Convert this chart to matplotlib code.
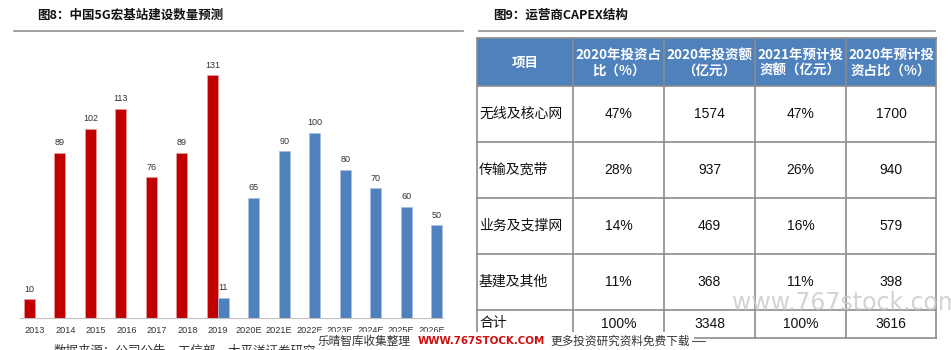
import matplotlib
matplotlib.use("Agg")
import matplotlib.pyplot as plt
from matplotlib.patches import Rectangle
import numpy as np

plt.rcParams['font.family'] = ['Noto Sans CJK SC', 'DejaVu Sans']

# ---------------- data ----------------
years = ["2013", "2014", "2015", "2016", "2017", "2018", "2019",
         "2020E", "2021E", "2022E", "2023E", "2024E", "2025E", "2026E"]
red_vals = [10, 89, 102, 113, 76, 89, 131, None, None, None, None, None, None, None]
blue_vals = [None, None, None, None, None, None, 11, 65, 90, 100, 80, 70, 60, 50]

left_title = "图8：中国5G宏基站建设数量预测"
right_title = "图9：运营商CAPEX结构"
source_text = "数据来源：公司公告，工信部，太平洋证券研究院"

tbl_header = ["项目", "2020年投资占\n比（%）", "2020年投资额\n（亿元）",
              "2021年预计投\n资额（亿元）", "2020年预计投\n资占比（%）"]
tbl_items = ["无线及核心网", "传输及宽带", "业务及支撑网", "基建及其他", "合计"]
tbl_share20 = ["47%", "28%", "14%", "11%", "100%"]
tbl_amt20 = ["1574", "937", "469", "368", "3348"]
tbl_c3 = ["47%", "26%", "16%", "11%", "100%"]
tbl_c4 = ["1700", "940", "579", "398", "3616"]

W, H = 951, 350
RED = "#C00000"
BLUE = "#4F81BD"

fig = plt.figure(figsize=(W / 100, H / 100), dpi=100)
fig.patch.set_facecolor("white")

def rect(x0, y0, x1, y1):
    # pixel coords (top-left origin) -> fig fraction
    return [x0 / W, (H - y1) / H, (x1 - x0) / W, (y1 - y0) / H]

# ---------------- bar chart ----------------
ax = fig.add_axes(rect(20, 40, 443, 318))
x = np.arange(len(years))
bw = 0.36
for i in range(len(years)):
    if red_vals[i] is not None:
        ax.bar(x[i] - bw / 2, red_vals[i], width=bw, color=RED,
               edgecolor="#e8a0a0", linewidth=0.5)
        ax.annotate(str(red_vals[i]), (x[i] - bw / 2, red_vals[i]),
                    xytext=(0, 4), textcoords="offset points",
                    ha="center", va="bottom", fontsize=6.5,
                    family=["Liberation Sans"], color="#333333")
    if blue_vals[i] is not None:
        ax.bar(x[i] + bw / 2, blue_vals[i], width=bw, color=BLUE,
               edgecolor="#a9c1e0", linewidth=0.5)
        ax.annotate(str(blue_vals[i]), (x[i] + bw / 2, blue_vals[i]),
                    xytext=(0, 4), textcoords="offset points",
                    ha="center", va="bottom", fontsize=6.5,
                    family=["Liberation Sans"], color="#333333")
ax.set_xlim(-0.49, 13.38)
ax.set_ylim(0, 150)
ax.set_xticks(x)
ax.set_xticklabels(years, fontsize=6.6, family=["Liberation Sans"], color="#333333")
ax.tick_params(axis="x", length=0, pad=6)
ax.set_yticks([])
for s in ["top", "right", "left"]:
    ax.spines[s].set_visible(False)
ax.spines["bottom"].set_color("#bfbfbf")
ax.spines["bottom"].set_linewidth(0.8)
ax.set_facecolor("none")

# ---------------- overlay (titles, table, watermark) ----------------
ov = fig.add_axes([0, 0, 1, 1], zorder=5)
ov.set_xlim(0, W)
ov.set_ylim(H, 0)
ov.axis("off")
ov.patch.set_alpha(0)

# faint big watermark
ov.text(732, 303, "www.767stock.com", fontsize=17, color="#c8c8c8",
        family=["DejaVu Sans"], ha="left", va="center", alpha=0.8)

# titles + rule lines
ov.text(37, 15, left_title, fontsize=9, fontweight="bold", color="#111111",
        ha="left", va="center")
ov.plot([14, 463], [31, 31], color="#909090", lw=1.2)
ov.text(493, 15, right_title, fontsize=9, fontweight="bold", color="#111111",
        ha="left", va="center")
ov.plot([479, 935], [31, 31], color="#909090", lw=1.2)

# source line (partially cut at bottom)
ov.text(54, 351, source_text, fontsize=9, color="#333333", ha="left", va="center")

# table
col_x = [477, 573, 664, 755, 846, 936]
row_y = [38, 86, 141.5, 197.5, 253.5, 309.5, 338]
ov.add_patch(Rectangle((col_x[0], row_y[0]), col_x[-1] - col_x[0], row_y[1] - row_y[0],
                       facecolor=BLUE, edgecolor="none"))
for j, htxt in enumerate(tbl_header):
    cx = (col_x[j] + col_x[j + 1]) / 2
    ov.text(cx, (row_y[0] + row_y[1]) / 2 + 1, htxt, fontsize=9.7, fontweight="bold",
            color="white", ha="center", va="center", linespacing=1.15)
cols = [tbl_items, tbl_share20, tbl_amt20, tbl_c3, tbl_c4]
for r in range(len(tbl_items)):
    cy = (row_y[r + 1] + row_y[r + 2]) / 2
    if r == len(tbl_items) - 1:
        cy = row_y[r + 1] + 14
    for j, col in enumerate(cols):
        if j == 0:
            ov.text(col_x[0] + 2, cy, col[r], fontsize=10, color="#111111",
                    ha="left", va="center")
        else:
            ov.text((col_x[j] + col_x[j + 1]) / 2, cy, col[r], fontsize=10,
                    color="#111111", ha="center", va="center",
                    family=["Liberation Sans", "Noto Sans CJK SC"])
lc = "#8c8c8c"
for yy in row_y[1:]:
    ov.plot([col_x[0], col_x[-1]], [yy, yy], color=lc, lw=1.2)
ov.plot([col_x[0], col_x[-1]], [row_y[0], row_y[0]], color=lc, lw=1.2)
for xx in col_x:
    ov.plot([xx, xx], [row_y[0], row_y[-1]], color=lc, lw=1.2)

# bottom banner watermark
ov.add_patch(Rectangle((316, 332), 378, 18, facecolor="white", edgecolor="none", zorder=6))
ov.text(318, 341, "乐晴智库收集整理", fontsize=8.4, color="#333333", ha="left",
        va="center", zorder=7)
ov.text(418, 341, "WWW.767STOCK.COM", fontsize=7.4, fontweight="bold", color="#d01010",
        family=["DejaVu Sans"], ha="left", va="center", zorder=7)
ov.text(550, 341, "更多投资研究资料免费下载", fontsize=8.4, color="#333333", ha="left",
        va="center", zorder=7)
ov.plot([692, 705], [341, 341], color="#555555", lw=0.8, zorder=7)

fig.savefig("out.png", dpi=100, facecolor="white")
